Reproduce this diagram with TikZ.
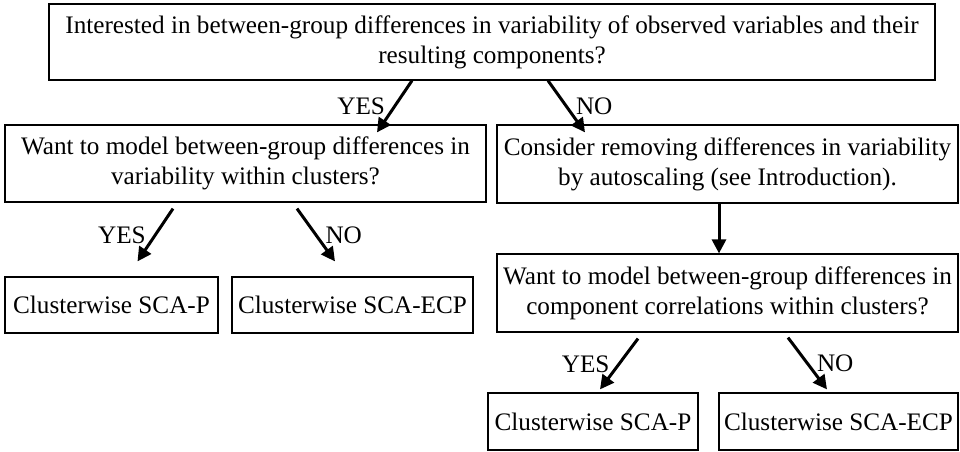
\documentclass[tikz,border=0pt]{standalone}
\usepackage{fontspec}
\setmainfont{Liberation Serif}
\usepackage{tikz}
\usetikzlibrary{arrows.meta,calc}

\begin{document}
\begin{tikzpicture}[x=0.5pt, y=-0.5pt,
    box/.style={draw, line width=0.6pt, align=center, inner sep=0pt, font=\fontsize{12.6}{15}\selectfont},
    flow/.style={-{Triangle[length=7pt,width=7pt]}, line width=1.5pt},
    ans/.style={font=\fontsize{12.6}{15}\selectfont, inner sep=4pt}]
    \useasboundingbox (0,0) rectangle (960,451);

    % Questions
    \node[box, minimum width=443pt, minimum height=38pt] (interest) at (492,42)
        {Interested in between-group differences in variability of observed variables and their\\resulting components?};
    \node[box, minimum width=240.5pt, minimum height=38.5pt] (withinvar) at (245.5,163.5)
        {Want to model between-group differences in\\variability within clusters?};
    \node[box, minimum width=230.5pt, minimum height=39pt] (autoscale) at (727.5,164)
        {Consider removing differences in variability\\by autoscaling (see Introduction).};
    \node[box, minimum width=230.5pt, minimum height=39pt] (corr) at (727.5,293)
        {Want to model between-group differences in\\component correlations within clusters?};

    % Methods
    \node[box, minimum width=106.5pt, minimum height=28pt] (scapA) at (111.5,305) {Clusterwise SCA-P};
    \node[box, minimum width=120.5pt, minimum height=28pt] (ecpA) at (352.5,305) {Clusterwise SCA-ECP};
    \node[box, minimum width=105pt, minimum height=28.5pt] (scapB) at (593,421.5) {Clusterwise SCA-P};
    \node[box, minimum width=119.5pt, minimum height=28.5pt] (ecpB) at (838.5,421.5) {Clusterwise SCA-ECP};

    % Arrows
    \draw[flow] ($(interest.south)+(-80,0)$) -- ($(withinvar.north)+(131.5,8)$)
        node[ans, midway, left] (yesA) {YES};
    \draw[flow] ($(interest.south)+(56,0)$) -- ($(autoscale.north)+(-142.5,8)$)
        node[ans, midway, right] (noA) {NO};
    \draw[flow] ($(autoscale.south)+(-8.5,0)$) -- ($(corr.north)+(-8.5,0)$);
    \draw[flow] ($(withinvar.south)+(-72.5,6)$) -- ($(scapA.north)+(26,-15)$)
        node[ans, midway, left] (yesB) {YES};
    \draw[flow] ($(withinvar.south)+(51.5,6)$) -- ($(ecpA.north)+(-17.5,-15)$)
        node[ans, midway, right] (noB) {NO};
    \draw[flow] ($(corr.south)+(-89.5,6)$) -- ($(scapB.north)+(7,-3)$)
        node[ans, midway, left] (yesC) {YES};
    \draw[flow] ($(corr.south)+(60.5,5)$) -- ($(ecpB.north)+(-11.5,-3)$)
        node[ans, midway, right] (noC) {NO};
\end{tikzpicture}
\end{document}
